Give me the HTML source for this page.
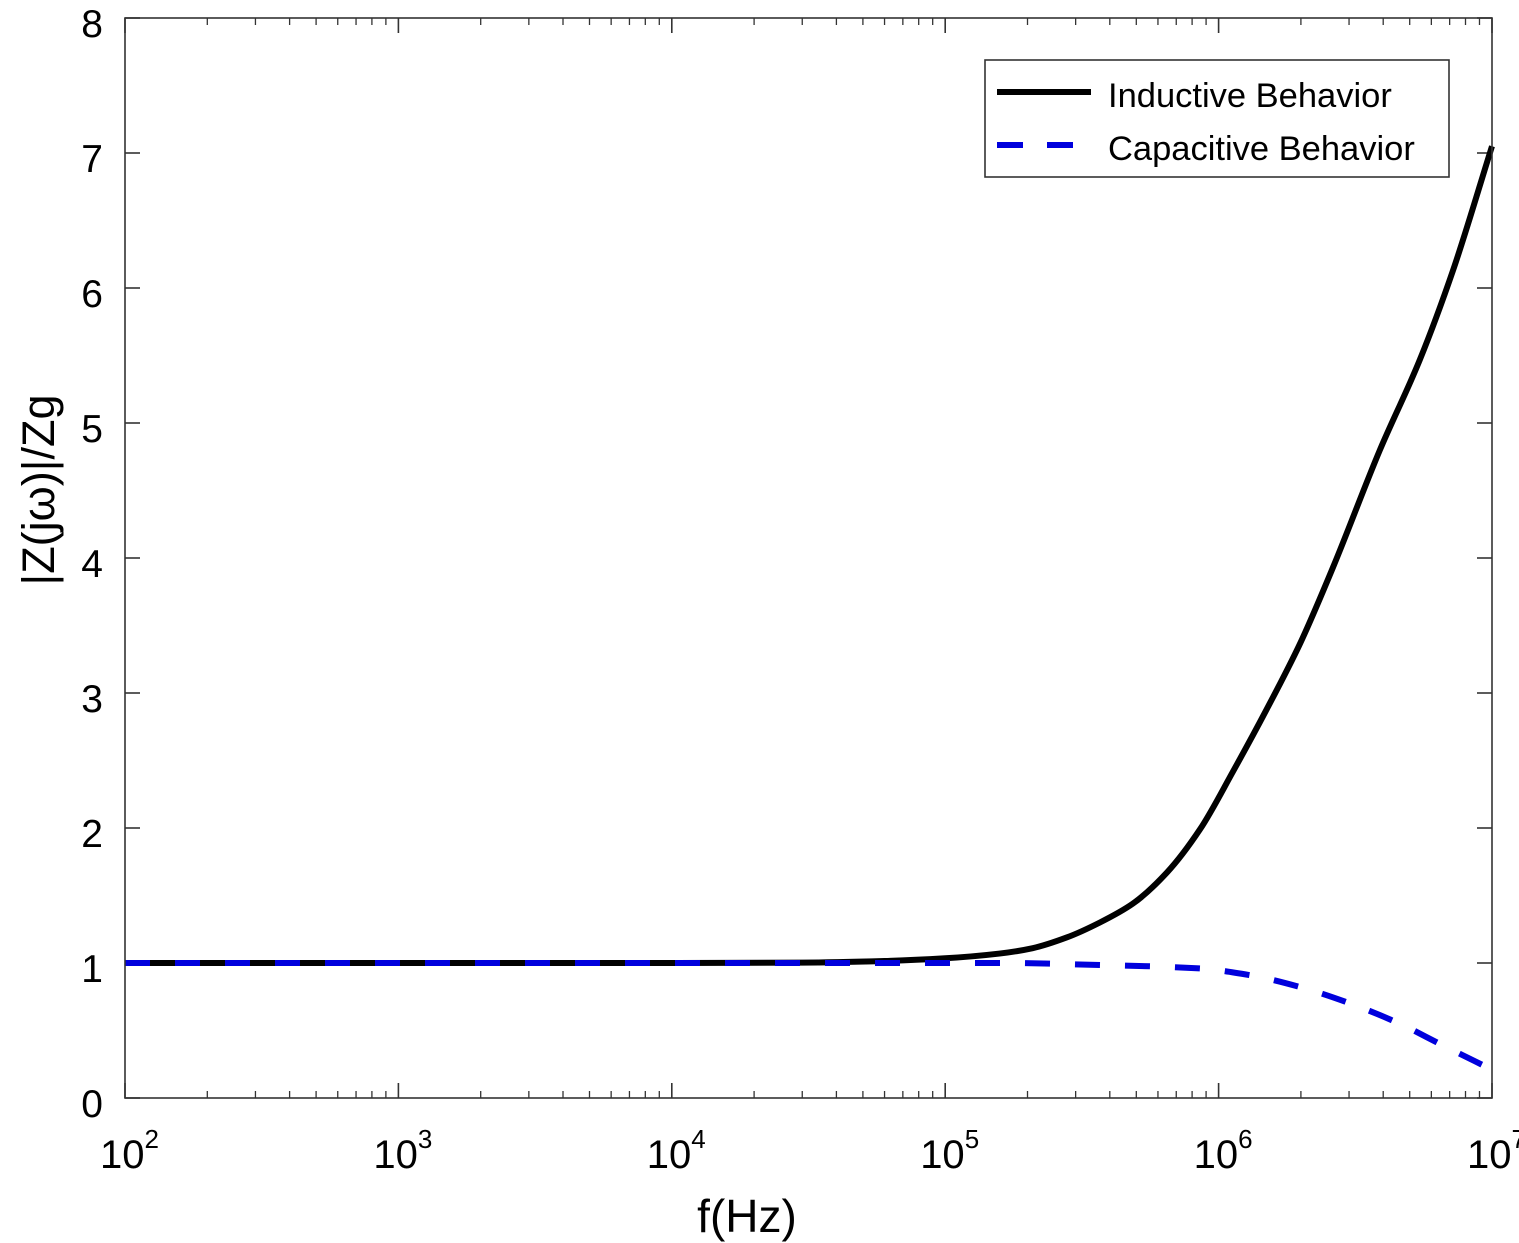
<!DOCTYPE html>
<html><head><meta charset="utf-8"><style>
body{margin:0;background:#fff}
svg{display:block;font-family:"Liberation Sans",Arial,sans-serif}
</style></head><body>
<svg id="chart" width="1519" height="1243" viewBox="0 0 1519 1243">
<g id="grid"></g>
<g id="series"></g>
<rect x="125" y="18" width="1367" height="1080" fill="none" stroke="#333" stroke-width="1.6"/>
<text x="747" y="1232" font-size="46" text-anchor="middle">f(Hz)</text>
<text transform="translate(54,490) rotate(-90)" font-size="45" text-anchor="middle">|Z(jω)|/Zg</text>
<g>
<rect x="985" y="60" width="464" height="117" fill="#fff" stroke="#333" stroke-width="1.6"/>
<line x1="997" y1="92" x2="1091" y2="92" stroke="#000" stroke-width="6"/>
<text x="1108" y="107" font-size="34.5">Inductive Behavior</text>
<line x1="997" y1="145" x2="1093" y2="145" stroke="#0000dd" stroke-width="6" stroke-dasharray="26,24"/>
<text x="1108" y="160" font-size="34.5">Capacitive Behavior</text>
</g>
</svg>
<script>
const xExps=[2,3,4,5,6,7];
const yTicks=[0,1,2,3,4,5,6,7,8];
const indF=[1e2,1e3,1e4,3e4,6e4,1e5,1.58e5,2.09e5,2.79e5,3.68e5,4.86e5,6.47e5,8.55e5,1.13e6,1.5e6,1.99e6,2.62e6,3.89e6,5.45e6,7.2e6,1e7];
const indV=[1,1,1,1.003,1.015,1.035,1.07,1.11,1.19,1.30,1.44,1.67,1.99,2.42,2.88,3.37,3.93,4.80,5.47,6.13,7.05];
const capF=[1e2,1e5,1.6e5,3.7e5,8.5e5,1.3e6,2e6,3.03e6,4.6e6,6.6e6,1e7];
const capV=[1,1,1,0.985,0.96,0.91,0.82,0.70,0.55,0.39,0.21];
const X0=125,X1=1492,Y0=1098,Y1=18;
const xs=f=>X0+(Math.log10(f)-2)/5*(X1-X0);
const ys=v=>Y0-v/8*(Y0-Y1);
const NS="http://www.w3.org/2000/svg";
const g=document.getElementById('grid'),s=document.getElementById('series');
function mk(tag,attrs,parent){const e=document.createElementNS(NS,tag);for(const k in attrs)e.setAttribute(k,attrs[k]);parent.appendChild(e);return e;}
xExps.forEach(e=>{
 const x=xs(Math.pow(10,e));
 let l=mk('line',{x1:x,x2:x,y1:Y0,y2:Y0-15,stroke:'#333','stroke-width':1.6},g);
 
 
 l=mk('line',{x1:x,x2:x,y1:Y1,y2:Y1+15,stroke:'#333','stroke-width':1.6},g);
 
 
 const t=mk('text',{x:x-25,y:1168,'font-size':40,'text-anchor':'start'},g);
 
 
 t.innerHTML='10<tspan dy="-20" font-size="26">'+e+'</tspan>';
 if(e<7){for(let m=2;m<=9;m++){const xm=xs(m*Math.pow(10,e));
  let a=mk('line',{x1:xm,x2:xm,y1:Y0,y2:Y0-7,stroke:'#333','stroke-width':1.3},g);
  
  
  a=mk('line',{x1:xm,x2:xm,y1:Y1,y2:Y1+7,stroke:'#333','stroke-width':1.3},g);
  
  }}
});
yTicks.forEach(v=>{
 const y=ys(v);
 let l=mk('line',{x1:X0,x2:X0+15,y1:y,y2:y,stroke:'#333','stroke-width':1.6},g);
 
 
 l=mk('line',{x1:X1,x2:X1-15,y1:y,y2:y,stroke:'#333','stroke-width':1.6},g);
 
 
 const t=mk('text',{x:103,y:y+19,'font-size':39,'text-anchor':'end'},g);
 
 
 t.textContent=v;
});
// monotone cubic (Fritsch-Carlson) path
function path(F,V){
 const p=F.map((f,i)=>[xs(f),ys(V[i])]);
 const n=p.length,d=[],m=new Array(n);
 for(let i=0;i<n-1;i++)d.push((p[i+1][1]-p[i][1])/(p[i+1][0]-p[i][0]));
 m[0]=d[0];m[n-1]=d[n-2];
 for(let i=1;i<n-1;i++){
  if(d[i-1]*d[i]<=0)m[i]=0;
  else{const h0=p[i][0]-p[i-1][0],h1=p[i+1][0]-p[i][0];
   const w1=2*h1+h0,w2=h1+2*h0;m[i]=(w1+w2)/(w1/d[i-1]+w2/d[i]);}
 }
 let s='M'+p[0][0]+','+p[0][1];
 for(let i=0;i<n-1;i++){
  const h=(p[i+1][0]-p[i][0])/3;
  s+=' C'+(p[i][0]+h)+','+(p[i][1]+m[i]*h)+' '+(p[i+1][0]-h)+','+(p[i+1][1]-m[i+1]*h)+' '+p[i+1][0]+','+p[i+1][1];
 }
 return s;
}
let a=mk('path',{d:path(indF,indV),fill:'none',stroke:'#000','stroke-width':6},s);


a=mk('path',{d:path(capF,capV),fill:'none',stroke:'#0000dd','stroke-width':6,'stroke-dasharray':'25,25'},s);


</script>
</body></html>
